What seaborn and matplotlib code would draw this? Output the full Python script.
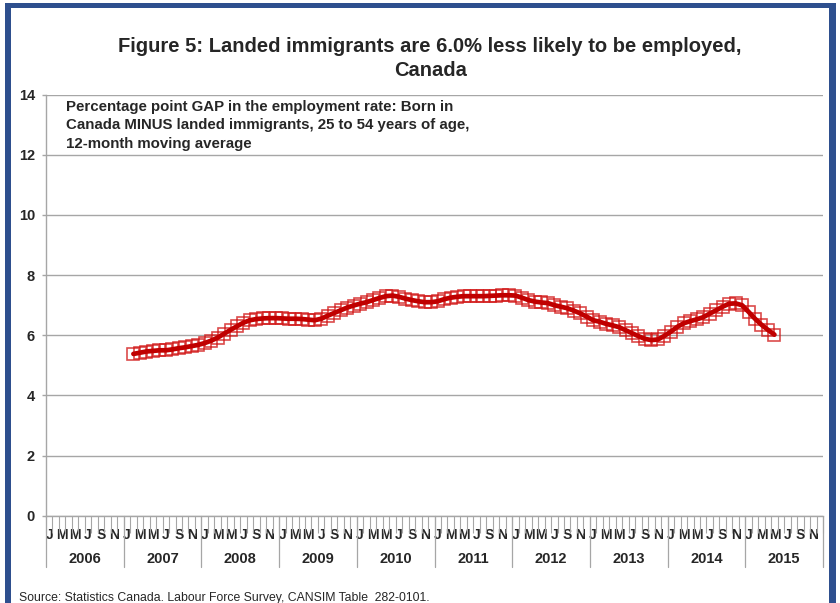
import numpy as np
import pandas as pd
import matplotlib
matplotlib.use("Agg")
import matplotlib.pyplot as plt
import matplotlib.transforms as mtransforms
from matplotlib.patches import Rectangle
import seaborn as sns

# ---------------- data ----------------
years = [2006, 2007, 2008, 2009, 2010, 2011, 2012, 2013, 2014, 2015]
month_letters = ["J", "F", "M", "A", "M", "J", "J", "A", "S", "O", "N", "D"]
labelled_months = [0, 2, 4, 6, 8, 10]  # J M M J S N
start_month_index = 13  # Feb 2007 (months counted from Jan 2006)
gap_values = [
    5.38, 5.42, 5.46, 5.48, 5.50, 5.50, 5.53, 5.57, 5.60, 5.64, 5.68,        # 2007 Feb-Dec
    5.74, 5.82, 5.92, 6.05, 6.18, 6.30, 6.42, 6.50, 6.54, 6.56, 6.57, 6.57,  # 2008
    6.56, 6.55, 6.55, 6.54, 6.52, 6.50, 6.55, 6.65, 6.74, 6.83, 6.92, 6.99,  # 2009
    7.05, 7.10, 7.17, 7.24, 7.30, 7.32, 7.28, 7.22, 7.17, 7.13, 7.10, 7.10,  # 2010
    7.13, 7.20, 7.25, 7.28, 7.30, 7.30, 7.30, 7.30, 7.31, 7.32, 7.33, 7.33,  # 2011
    7.32, 7.25, 7.17, 7.12, 7.09, 7.07, 7.00, 6.95, 6.90, 6.82, 6.73, 6.62,  # 2012
    6.50, 6.45, 6.38, 6.33, 6.27, 6.17, 6.07, 5.97, 5.88, 5.84, 5.86, 5.98,  # 2013
    6.12, 6.28, 6.40, 6.47, 6.53, 6.60, 6.72, 6.83, 6.95, 7.05, 7.06, 7.00,  # 2014
    6.78, 6.55, 6.35, 6.18, 6.02,                                            # 2015 Jan-May
]
title_text = "Figure 5: Landed immigrants are 6.0% less likely to be employed,\nCanada"
note_text = ("Percentage point GAP in the employment rate: Born in\n"
             "Canada MINUS landed immigrants, 25 to 54 years of age,\n"
             "12-month moving average")
source_text = "Source: Statistics Canada. Labour Force Survey, CANSIM Table  282-0101."
y_ticks = [0, 2, 4, 6, 8, 10, 12, 14]

# ---------------- build table ----------------
n_months = len(years) * 12
df = pd.DataFrame({
    "pos": np.arange(start_month_index, start_month_index + len(gap_values)) + 0.5,
    "gap": gap_values,
})

sns.set_theme(style="white")
plt.rcParams["font.family"] = ["Liberation Sans", "DejaVu Sans"]

W, H = 840, 603
fig = plt.figure(figsize=(W / 100, H / 100), dpi=100)
fig.patch.set_facecolor("white")

ax_l, ax_r, ax_t, ax_b = 46, 823, 94.7, 515.7
ax = fig.add_axes([ax_l / W, (H - ax_b) / H, (ax_r - ax_l) / W, (ax_b - ax_t) / H])
ax.set_facecolor("white")

grid_c = "#A6A6A6"
red_mk = "#D01010"
red_ln = "#C00000"

# markers (hollow squares) under the line
sns.lineplot(data=df, x="pos", y="gap", ax=ax, lw=0, marker="s", markersize=9,
             markerfacecolor="none", markeredgecolor=red_mk, markeredgewidth=1.2,
             alpha=0.75, zorder=3, legend=False)
sns.lineplot(data=df, x="pos", y="gap", ax=ax, color=red_ln, lw=3.4, zorder=4,
             legend=False)

ax.set_xlim(0, n_months)
ax.set_ylim(0, 14)
ax.set_xlabel("")
ax.set_ylabel("")

# y axis
ax.set_yticks(y_ticks)
ax.set_yticklabels([str(v) for v in y_ticks], fontsize=10.5, fontweight="bold")
ax.yaxis.grid(True, color=grid_c, lw=1.0)
ax.set_axisbelow(True)
ax.tick_params(axis="y", length=3, width=1, color=grid_c, pad=5, left=True)
for s in ["top", "right"]:
    ax.spines[s].set_visible(False)
ax.spines["left"].set_color(grid_c)
ax.spines["bottom"].set_color(grid_c)
ax.spines["left"].set_linewidth(1.0)
ax.spines["bottom"].set_linewidth(1.0)

# x axis: monthly tick lines, labels at alternate month centres
ax.set_xticks(np.arange(0, n_months + 1), minor=True)
ax.tick_params(axis="x", which="minor", length=12, width=0.8, color=grid_c,
               direction="out", bottom=True)
maj_pos = [y * 12 + m + 0.5 for y in range(len(years)) for m in labelled_months]
maj_lab = [month_letters[m] for y in range(len(years)) for m in labelled_months]
ax.set_xticks(maj_pos)
ax.set_xticklabels(maj_lab, fontsize=10, fontweight="bold")
ax.tick_params(axis="x", which="major", length=0, pad=9, bottom=True)

# year separators and year labels
trans = mtransforms.blended_transform_factory(ax.transData, ax.transAxes)
y_sep_bot = -(567 - ax_b) / (ax_b - ax_t)
for k in range(len(years) + 1):
    ax.plot([k * 12, k * 12], [0, y_sep_bot], transform=trans, color=grid_c,
            lw=0.9, clip_on=False)
y_lab = -(559 - ax_b) / (ax_b - ax_t)
for k, yr in enumerate(years):
    ax.text(k * 12 + 6, y_lab, str(yr), transform=trans, ha="center", va="center",
            fontsize=10.5, fontweight="bold")

# texts
fig.text(0.512, 1 - 58.5 / H, title_text, ha="center", va="center", fontsize=14.5,
         fontweight="bold", linespacing=1.3)
fig.text(66 / W, 1 - 100 / H, note_text, ha="left", va="top", fontsize=10.8,
         fontweight="bold", linespacing=1.4)
fig.text(19 / W, 1 - 598 / H, source_text, ha="left", va="center", fontsize=8.8)

# blue frame (left, top, right)
blue = "#2E4F8E"
fig.patches.append(Rectangle((5 / W, 0), 6 / W, 1 - 3 / H, transform=fig.transFigure,
                             facecolor=blue, edgecolor="none", zorder=10))
fig.patches.append(Rectangle((5 / W, 1 - 8 / H), 831 / W, 5 / H, transform=fig.transFigure,
                             facecolor=blue, edgecolor="none", zorder=10))
fig.patches.append(Rectangle((829 / W, 0), 7 / W, 1 - 3 / H, transform=fig.transFigure,
                             facecolor=blue, edgecolor="none", zorder=10))

fig.savefig("out.png", dpi=100, facecolor="white")
